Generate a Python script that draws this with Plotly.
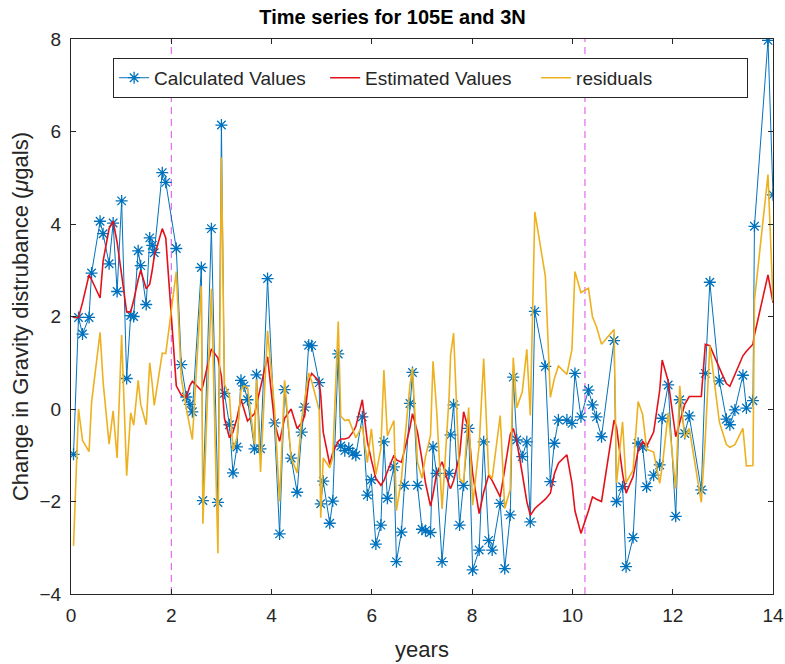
import plotly.graph_objects as go

# ---- data ----
years = [0.05, 0.15, 0.23, 0.36, 0.41, 0.58, 0.64, 0.76, 0.84, 0.92,
         1.01, 1.11, 1.19, 1.25, 1.34, 1.39, 1.50, 1.57, 1.62, 1.66,
         1.82, 1.89, 2.10, 2.20, 2.30, 2.37, 2.42, 2.60, 2.63, 2.80,
         2.93, 3.00, 3.06, 3.16, 3.23, 3.31, 3.39, 3.45, 3.52, 3.66,
         3.70, 3.78, 3.92, 4.06, 4.16, 4.26, 4.39, 4.51, 4.60, 4.66,
         4.74, 4.80, 4.95, 4.98, 5.03, 5.16, 5.22, 5.33, 5.38, 5.46,
         5.54, 5.62, 5.68, 5.81, 5.91, 5.99, 6.08, 6.18, 6.24, 6.31,
         6.44, 6.49, 6.59, 6.65, 6.76, 6.81, 6.91, 7.00, 7.07, 7.17,
         7.22, 7.29, 7.40, 7.54, 7.57, 7.63, 7.75, 7.83, 7.93, 8.01,
         8.14, 8.23, 8.33, 8.40, 8.56, 8.65, 8.76, 8.82, 8.89, 9.00,
         9.09, 9.16, 9.25, 9.46, 9.56, 9.64, 9.72, 9.89, 9.99, 10.05,
         10.17, 10.32, 10.40, 10.48, 10.58, 10.83, 10.88, 11.00, 11.07, 11.21,
         11.31, 11.40, 11.48, 11.62, 11.74, 11.79, 11.91, 12.06, 12.14, 12.24,
         12.33, 12.57, 12.65, 12.74, 12.93, 13.07, 13.14, 13.24, 13.40, 13.47,
         13.60, 13.63, 13.90, 14.00]

calculated = [-0.98, 1.98, 1.62, 1.98, 2.94, 4.06, 3.79, 3.14, 4.02, 2.54,
              4.50, 0.66, 2.02, 2.00, 3.42, 3.10, 2.26, 3.70, 3.54, 3.38,
              5.11, 4.90, 3.47, 0.96, 0.26, 0.10, -0.06, 3.06, -1.98, 3.90,
              -2.02, 6.14, 0.34, -0.34, -1.38, -0.82, 0.62, 0.50, 0.20, -0.86,
              0.74, -0.86, 2.82, -0.30, -2.70, 0.42, -1.06, -1.80, -0.50, 0.04,
              1.38, 1.37, 0.57, -2.05, -1.56, -2.47, -1.99, 1.19, -0.80, -0.90,
              -0.85, -0.95, -1.00, -0.17, -1.86, -1.53, -2.92, -2.51, -0.71, -1.93,
              -1.25, -3.30, -2.66, -1.65, 0.12, 0.79, -1.65, -2.60, -2.63, -2.67,
              -0.82, -1.39, -3.30, -1.39, -0.56, 0.09, -2.51, -1.65, -0.42, -3.48,
              -3.05, -0.71, -2.84, -3.05, -2.04, -3.45, -2.29, 0.69, -0.67, -1.03,
              -0.71, -2.44, 2.11, 0.92, -1.57, -0.74, -0.24, -0.24, -0.31, 0.77,
              -0.17, 0.41, 0.09, -0.17, -0.60, 1.48, -2.00, -1.68, -3.41, -2.78,
              -0.74, -0.82, -1.68, -1.43, -1.21, -0.20, 0.52, -2.32, 0.20, -0.53,
              -0.15, -1.75, 0.77, 2.74, 0.61, -0.22, -0.34, -0.02, 0.73, 0.02,
              0.18, 3.95, 7.97, 4.63]

estimated = [1.98, 1.98, 2.30, 2.90, 2.80, 2.40, 3.20, 3.90, 4.06, 3.60,
             2.90, 2.10, 2.10, 2.35, 2.80, 3.00, 2.60, 2.70, 3.00, 3.30,
             3.90, 3.70, 0.50, 0.30, 0.25, 0.50, 0.60, 0.40, 0.50, 1.30,
             1.10, 0.70, -0.20, -0.62, -0.50, -0.20, 0.21, 0.00, -0.26, -0.10,
             0.10, 0.50, 1.13, -0.30, -0.70, -0.20, 0.00, -0.42, -0.30, -0.15,
             0.60, 0.77, 0.60, 0.30, -0.50, -1.20, -0.94, -0.70, -0.65, -0.65,
             -0.62, -0.50, -0.38, 0.20, -0.70, -1.10, -1.50, -1.65, -1.55, -1.35,
             -1.00, -1.10, -1.15, -0.90, -0.40, -0.10, -0.50, -1.10, -1.60, -2.10,
             -1.85, -1.40, -1.14, -1.65, -1.72, -1.55, -1.00, -0.06, -0.45, -1.40,
             -2.26, -1.80, -1.43, -1.55, -1.90, -1.30, -0.55, -0.42, -0.70, -1.40,
             -2.00, -2.30, -2.15, -1.95, -1.82, -1.40, -1.17, -0.99, -1.60, -2.20,
             -2.69, -2.20, -1.90, -1.95, -2.00, -0.24, -0.40, -1.40, -1.82, -1.46,
             -0.90, -0.70, -0.81, -0.50, 0.40, 1.06, 0.60, -0.60, -0.30, 0.10,
             0.27, 0.27, 1.40, 1.37, 0.89, 0.55, 0.49, 0.75, 1.15, 1.25,
             1.40, 1.60, 2.90, 2.30]

residuals = [-2.96, 0.00, -0.68, -0.92, 0.14, 1.66, 0.59, -0.76, -0.04, -1.06,
             1.60, -1.44, -0.08, -0.35, 0.62, 0.10, -0.34, 1.00, 0.54, 0.08,
             1.21, 1.20, 2.97, 0.66, 0.01, -0.40, -0.66, 2.66, -2.48, 2.60,
             -3.12, 5.44, 0.54, 0.28, -0.88, -0.62, 0.41, 0.50, 0.46, -0.76,
             0.64, -1.36, 1.69, 0.00, -2.00, 0.62, -1.06, -1.38, -0.20, 0.19,
             0.78, 0.60, -0.03, -2.35, -1.06, -1.27, -1.05, 1.89, -0.15, -0.25,
             -0.23, -0.45, -0.62, -0.37, -1.16, -0.43, -1.42, -0.86, 0.84, -0.58,
             -0.25, -2.20, -1.51, -0.75, 0.52, 0.89, -1.15, -1.50, -1.03, -0.57,
             1.03, 0.01, -2.16, 0.26, 1.16, 1.64, -1.51, -1.59, 0.03, -2.08,
             -0.79, 1.09, -1.41, -1.50, -0.14, -2.15, -1.74, 1.11, 0.03, 0.37,
             1.29, -0.14, 4.26, 2.87, 0.25, 0.66, 0.93, 0.75, 1.29, 2.97,
             2.52, 2.61, 1.99, 1.78, 1.40, 1.72, -1.60, -0.28, -1.59, -1.32,
             0.16, -0.12, -0.87, -0.93, -1.61, -1.26, -0.08, -1.72, 0.50, -0.63,
             -0.42, -2.02, -0.63, 1.37, -0.28, -0.77, -0.83, -0.77, -0.42, -1.23,
             -1.22, 2.35, 5.07, 2.33]

event_years = [2.0, 10.25]
y_range = [-4, 8]
x_range = [0, 14]
x_ticks = [0, 2, 4, 6, 8, 10, 12, 14]
y_ticks = [-4, -2, 0, 2, 4, 6, 8]

BLUE = "#0072BD"
RED = "#E3121A"
YELLOW = "#EDB120"
AXIS = "#262626"
FONT = "Liberation Sans, Arial, sans-serif"

fig = go.Figure()

for ev in event_years:
    fig.add_trace(go.Scatter(
        x=[ev, ev], y=y_range, mode="lines", showlegend=False, hoverinfo="skip",
        line=dict(color="#E04AE8", width=1, dash="7px,5px")))

fig.add_trace(go.Scatter(
    x=years, y=calculated, mode="lines+markers", name="Calculated Values",
    line=dict(color=BLUE, width=1),
    marker=dict(symbol="asterisk-open", size=10, color=BLUE,
                line=dict(color=BLUE, width=1.3))))
fig.add_trace(go.Scatter(
    x=years, y=estimated, mode="lines", name="Estimated Values",
    line=dict(color=RED, width=1.6)))
fig.add_trace(go.Scatter(
    x=years, y=residuals, mode="lines", name="residuals",
    line=dict(color=YELLOW, width=1.6)))

axis_common = dict(
    showline=True, linecolor=AXIS, linewidth=1, mirror="ticks",
    ticks="inside", ticklen=5, tickcolor=AXIS, showgrid=False, zeroline=False,
    tickfont=dict(family=FONT, size=19, color=AXIS), automargin=False,
)

fig.update_layout(
    width=785, height=664,
    margin=dict(l=71, r=12, t=39, b=70, autoexpand=False),
    paper_bgcolor="white", plot_bgcolor="white",
    font=dict(family=FONT, color=AXIS),
    title=dict(text="<b>Time series for 105E and 3N</b>", xref="container",
               x=0.5, xanchor="center",
               y=1 - 17 / 664, yanchor="middle",
               font=dict(family=FONT, size=20, color="black")),
    xaxis=dict(range=x_range, tickvals=x_ticks, ticklabeloverflow="allow",
               ticklabelstandoff=4,
               title=dict(text="years", font=dict(family=FONT, size=22, color=AXIS),
                          standoff=16),
               **axis_common),
    yaxis=dict(range=y_range, tickvals=y_ticks, ticklabelstandoff=5,
               title=dict(text="Change in Gravity distrubance (<i>μ</i>gals)",
                          font=dict(family=FONT, size=22, color=AXIS), standoff=4),
               **axis_common),
    legend=dict(orientation="h", x=0.06, xanchor="left", y=0.966, yanchor="top",
                bgcolor="white", bordercolor=AXIS, borderwidth=1,
                font=dict(family=FONT, size=19, color=AXIS),
                entrywidth=166, entrywidthmode="pixels",
                traceorder="normal"),
    showlegend=True,
)

fig.write_html("out.html")
